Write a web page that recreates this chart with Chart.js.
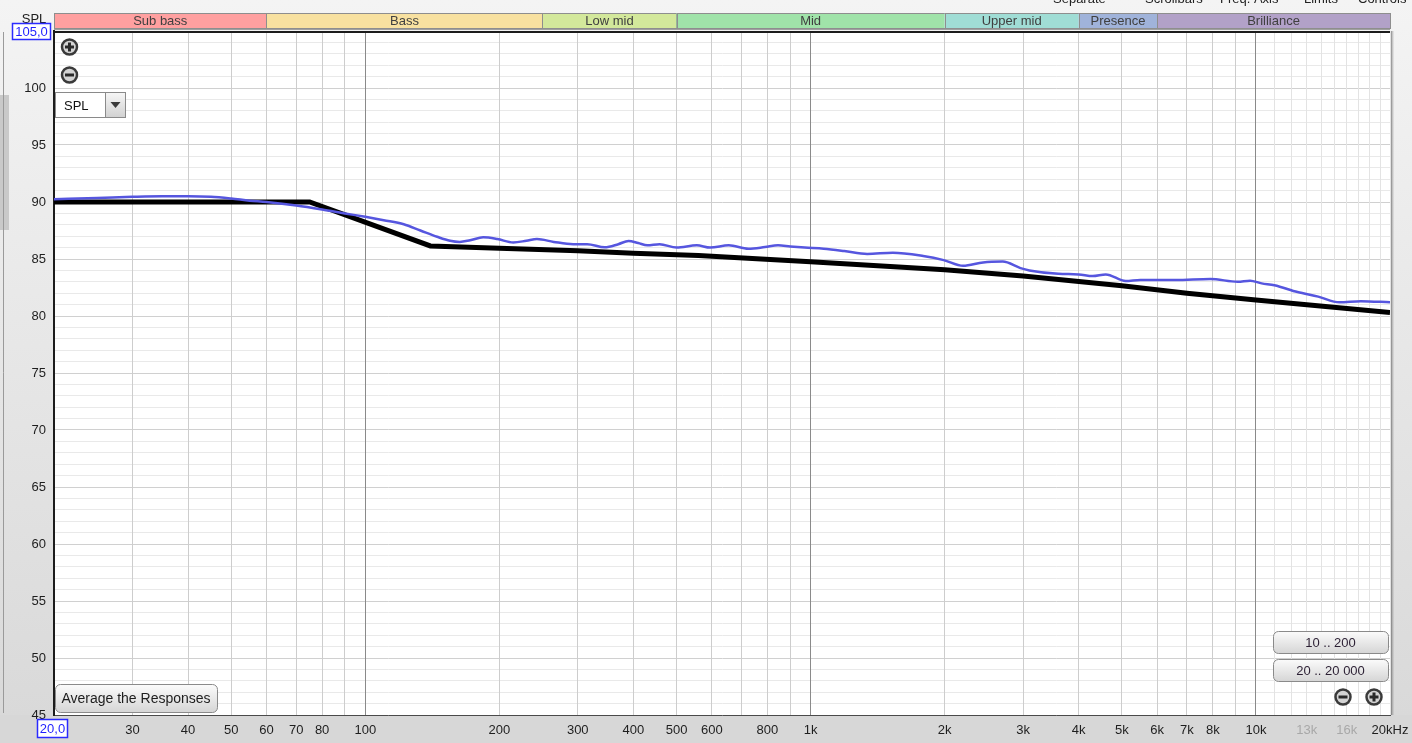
<!DOCTYPE html>
<html>
<head>
<meta charset="utf-8">
<script src="https://cdn.jsdelivr.net/npm/chart.js@4.4.1/dist/chart.umd.min.js"></script>
<style>
html, body { margin: 0; padding: 0; background: #e4e4e4; overflow: hidden; }
</style>
</head>
<body>
<canvas id="spl_chart_area" width="1412" height="743"></canvas>
<script>
"use strict";

// measured response (blue) and target curve (black)
var measFreq = [20, 25, 30, 35, 40, 45, 50, 55, 60, 70, 80, 90, 100, 110, 122, 133, 145, 155, 163, 172, 184, 198,
    215, 230, 243, 265, 293, 315, 345, 370, 390, 410, 430, 458, 500, 555, 595, 655, 725, 790, 845, 900, 970,
    1070, 1190, 1340, 1530, 1790, 1990, 2200, 2440, 2700, 2960, 3100, 3600, 4000, 4300, 4600, 5100, 5500,
    6600, 7900, 9100, 9700, 10300, 11000, 12400, 13800, 15400, 17200, 20000];
var measSpl = [90.25, 90.35, 90.45, 90.5, 90.5, 90.45, 90.3, 90.12, 90.0, 89.7, 89.35, 89.0, 88.7, 88.4, 88.05, 87.5, 86.95, 86.6, 86.5, 86.65, 86.9, 86.75,
    86.45, 86.6, 86.75, 86.5, 86.3, 86.3, 86.03, 86.3, 86.58, 86.4, 86.2, 86.3, 86.0, 86.2, 86.0, 86.2, 85.9, 86.05, 86.2, 86.1, 86.0,
    85.9, 85.7, 85.44, 85.55, 85.26, 84.9, 84.4, 84.7, 84.77, 84.2, 84.0, 83.7, 83.65, 83.5, 83.65, 83.07, 83.16,
    83.16, 83.25, 83.0, 83.1, 82.86, 82.7, 82.1, 81.7, 81.2, 81.3, 81.2];
var targetFreq = [20, 75, 140, 200, 300, 400, 560, 1000, 2000, 3000, 5000, 7000, 10000, 20000];
var targetSpl = [90, 90, 86.15, 85.95, 85.73, 85.5, 85.3, 84.75, 84.05, 83.5, 82.65, 82.0, 81.4, 80.3];

// frequency bands across the top
var bandNames = ["Sub bass", "Bass", "Low mid", "Mid", "Upper mid", "Presence", "Brilliance"];
var bandEdges = [20, 60, 250, 500, 2000, 4000, 6000, 20000];
var bandColors = ["#ffa0a0", "#f8e1a0", "#d3e89b", "#a0e3a9", "#a0ddd5", "#a0b3da", "#b2a1c8"];

// axis grid + labels
var xGridValues = [20, 30, 40, 50, 60, 70, 80, 90, 100, 200, 300, 400, 500, 600, 700, 800, 900,
    1000, 2000, 3000, 4000, 5000, 6000, 7000, 8000, 9000, 10000, 11000, 12000, 13000, 14000, 15000,
    16000, 17000, 18000, 19000, 20000];
var xLabelValues = [30, 40, 50, 60, 70, 80, 100, 200, 300, 400, 500, 600, 800, 1000, 2000, 3000, 4000,
    5000, 6000, 7000, 8000, 10000, 13000, 16000, 20000];
var xLabelTexts = ["30", "40", "50", "60", "70", "80", "100", "200", "300", "400", "500", "600", "800", "1k",
    "2k", "3k", "4k", "5k", "6k", "7k", "8k", "10k", "13k", "16k", "20kHz"];
var xDimLabels = [13000, 16000];
var yMin = 45, yMax = 105;

var uiFont = '"Liberation Sans", Arial, sans-serif';

function drawButton(c, x, y, w, h, text, color, size) {
    var g = c.createLinearGradient(0, y, 0, y + h);
    g.addColorStop(0, "#fcfcfc");
    g.addColorStop(1, "#d6d6d6");
    c.beginPath();
    c.roundRect(x + 0.5, y + 0.5, w, h, 5);
    c.fillStyle = g;
    c.fill();
    c.strokeStyle = "#8a8a8a";
    c.lineWidth = 1;
    c.stroke();
    c.fillStyle = color || "#1e1e1e";
    c.font = (size || 13) + "px " + uiFont;
    c.textAlign = "center";
    c.textBaseline = "middle";
    c.fillText(text, x + w / 2, y + h / 2 + 1);
}

function drawZoomIcon(c, cx, cy, plus) {
    c.beginPath();
    c.arc(cx, cy, 7.5, 0, Math.PI * 2);
    c.fillStyle = "#d4d4d4";
    c.fill();
    c.lineWidth = 2.5;
    c.strokeStyle = "#3a3a3a";
    c.stroke();
    c.lineWidth = 3;
    c.strokeStyle = "#2a2a2a";
    c.beginPath();
    c.moveTo(cx - 4.5, cy);
    c.lineTo(cx + 4.5, cy);
    if (plus) {
        c.moveTo(cx, cy - 4.5);
        c.lineTo(cx, cy + 4.5);
    }
    c.stroke();
}

function valueBox(c, x, y, w, h, text) {
    c.fillStyle = "#ffffff";
    c.fillRect(x, y, w, h);
    c.strokeStyle = "#2a2aff";
    c.lineWidth = 1.5;
    c.strokeRect(x + 0.5, y + 0.5, w - 1, h - 1);
    c.fillStyle = "#1f1fff";
    c.font = "13px " + uiFont;
    c.textAlign = "center";
    c.textBaseline = "middle";
    c.fillText(text, x + w / 2, y + h / 2 + 1);
}

var rewFrame = {
    id: "rewFrame",
    beforeDraw: function (chart) {
        var c = chart.ctx, a = chart.chartArea;
        c.save();
        var g = c.createLinearGradient(0, 0, 0, chart.height);
        g.addColorStop(0, "#f4f4f4");
        g.addColorStop(1, "#d8d8d8");
        c.fillStyle = g;
        c.fillRect(0, 0, chart.width, chart.height);
        c.fillStyle = "#d7d7d7";
        c.fillRect(0, a.bottom, chart.width, chart.height - a.bottom);
        c.fillStyle = "#ffffff";
        c.fillRect(a.left, a.top, a.right - a.left, a.bottom - a.top);
        // left side panel edge
        c.fillStyle = "#c9c9c9";
        c.fillRect(0, 95, 9, 135);
        c.strokeStyle = "#9a9a9a";
        c.lineWidth = 1;
        c.beginPath();
        c.moveTo(3.5, 32);
        c.lineTo(3.5, a.bottom - 2);
        c.stroke();
        c.restore();
    },
    afterDraw: function (chart) {
        var c = chart.ctx, a = chart.chartArea, xs = chart.scales.x;
        c.save();
        // frame
        c.fillStyle = "#1c1c1c";
        c.fillRect(a.left - 1, a.top, a.right - a.left + 1, 2);
        c.fillStyle = "#a0a0a0";
        c.fillRect(a.left, a.top - 2, a.right - a.left, 1);
        var sh = ["rgba(0,0,0,0.35)", "rgba(0,0,0,0.18)", "rgba(0,0,0,0.08)"];
        for (var s = 0; s < sh.length; s++) {
            c.fillStyle = sh[s];
            c.fillRect(a.right + 1 + s, a.top, 1, a.bottom - a.top);
        }
        // band strip
        c.font = "13px " + uiFont;
        c.textAlign = "center";
        c.textBaseline = "middle";
        for (var i = 0; i < bandNames.length; i++) {
            var x0 = xs.getPixelForValue(bandEdges[i]);
            var x1 = xs.getPixelForValue(bandEdges[i + 1]);
            c.fillStyle = bandColors[i];
            c.fillRect(x0, 13, x1 - x0, 15);
            c.strokeStyle = "#8e8e8e";
            c.lineWidth = 1;
            c.strokeRect(Math.round(x0) + 0.5, 13.5, Math.round(x1 - x0), 15);
            c.fillStyle = "#404040";
            c.fillText(bandNames[i], (x0 + x1) / 2, 21.5);
        }
        // top-right menu text (cut off by the window)
        c.fillStyle = "#222";
        c.textAlign = "left";
        c.textBaseline = "alphabetic";
        c.fillText("Separate", 1053, 3);
        c.fillText("Scrollbars", 1145, 3);
        c.fillText("Freq. Axis", 1220, 3);
        c.fillText("Limits", 1304, 3);
        c.fillText("Controls", 1358, 3);
        // axis name and limit boxes
        c.textAlign = "center";
        c.textBaseline = "middle";
        c.fillStyle = "#1e1e1e";
        c.fillText("SPL", 34, 19);
        valueBox(c, 12, 23, 39, 17, yMax.toFixed(1).replace(".", ","));
        valueBox(c, 37, 719, 31, 19, xs.min.toFixed(1).replace(".", ","));
        // controls inside the plot
        drawZoomIcon(c, 69.5, 47, true);
        drawZoomIcon(c, 69.5, 75, false);
        c.fillStyle = "#ffffff";
        c.fillRect(55.5, 92.5, 70, 25);
        c.strokeStyle = "#8a8a8a";
        c.lineWidth = 1;
        c.strokeRect(55.5, 92.5, 70, 25);
        var g = c.createLinearGradient(0, 93, 0, 117);
        g.addColorStop(0, "#f6f6f6");
        g.addColorStop(1, "#d2d2d2");
        c.fillStyle = g;
        c.fillRect(106, 93, 19, 24);
        c.strokeRect(105.5, 92.5, 20, 25);
        c.fillStyle = "#3a3a3a";
        c.beginPath();
        c.moveTo(110.5, 102);
        c.lineTo(120.5, 102);
        c.lineTo(115.5, 108);
        c.closePath();
        c.fill();
        c.fillStyle = "#111";
        c.font = "13px " + uiFont;
        c.textAlign = "left";
        c.fillText("SPL", 64, 106);
        drawButton(c, 55, 684, 162, 28, "Average the Responses", "#1e1e1e", 14);
        drawButton(c, 1273, 631, 115, 22, "10 .. 200", "#2b1f33", 13);
        drawButton(c, 1273, 659, 115, 22, "20 .. 20 000", "#2b1f33", 13);
        drawZoomIcon(c, 1343, 697, false);
        drawZoomIcon(c, 1374, 697, true);
        c.restore();
    }
};

var splChartArea = document.getElementById("spl_chart_area");
var splChart = new Chart(splChartArea, {
    type: 'line',
    data: {
        datasets: [
            {
                label: "Measurement",
                data: measFreq.map(function (f, i) { return { x: f, y: measSpl[i] }; }),
                borderColor: "#5656df",
                borderWidth: 2.5,
                pointRadius: 0,
                cubicInterpolationMode: 'monotone',
                fill: false
            },
            {
                label: "Target",
                data: targetFreq.map(function (f, i) { return { x: f, y: targetSpl[i] }; }),
                borderColor: "#000000",
                borderWidth: 5,
                pointRadius: 0,
                tension: 0,
                fill: false
            }
        ]
    },
    options: {
        responsive: false,
        animation: false,
        events: [],
        layout: { padding: { top: 31, right: 22, left: 0, bottom: 0 } },
        plugins: { legend: { display: false }, tooltip: { enabled: false } },
        scales: {
            x: {
                type: 'logarithmic',
                min: 20,
                max: 20000,
                afterBuildTicks: function (axis) {
                    axis.ticks = xGridValues.map(function (v) { return { value: v }; });
                },
                afterFit: function (axis) {
                    axis.height = 28;
                    axis.paddingLeft = 0;
                    axis.paddingRight = 0;
                },
                ticks: {
                    autoSkip: false,
                    maxRotation: 0,
                    padding: 8,
                    font: { family: uiFont, size: 13 },
                    color: function (c) {
                        return xDimLabels.indexOf(c.tick.value) >= 0 ? "#a8a8a8" : "#1e1e1e";
                    },
                    callback: function (value) {
                        var i = xLabelValues.indexOf(value);
                        return i < 0 ? "" : xLabelTexts[i];
                    }
                },
                grid: {
                    z: -1,
                    drawTicks: false,
                    color: function (c) {
                        var v = c.tick ? c.tick.value : 0;
                        if (v === 100 || v === 1000 || v === 10000) return "#8a8a8a";
                        if (v > 10000) return "#e3e3e3";
                        return "#cdcdcd";
                    }
                },
                border: { color: "#4a4a4a", width: 1 }
            },
            y: {
                min: yMin,
                max: yMax,
                afterFit: function (axis) {
                    axis.width = 54;
                    axis.paddingTop = 0;
                    axis.paddingBottom = 0;
                },
                ticks: {
                    stepSize: 1,
                    autoSkip: false,
                    padding: 8,
                    font: { family: uiFont, size: 13 },
                    color: "#1e1e1e",
                    callback: function (v) { return (v % 5 === 0 && v < yMax) ? String(v) : ""; }
                },
                grid: {
                    z: -2,
                    drawTicks: false,
                    color: function (c) {
                        return c.tick && c.tick.value % 5 === 0 ? "#d0d0d0" : "#e9e9e9";
                    }
                },
                border: { color: "#1c1c1c", width: 2 }
            }
        }
    },
    plugins: [rewFrame]
});
</script>
</body>
</html>
